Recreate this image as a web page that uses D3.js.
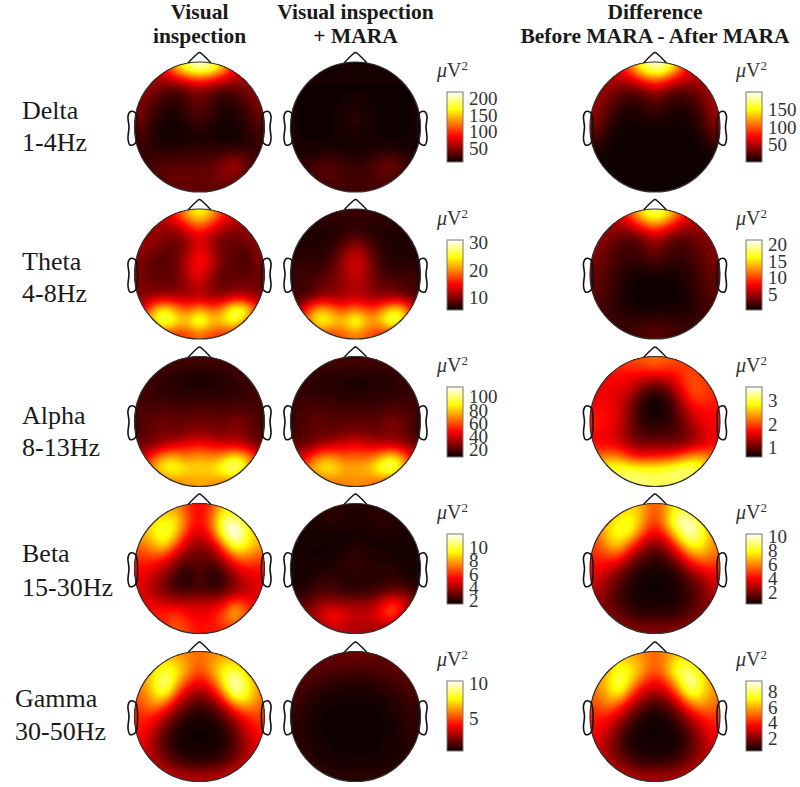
<!DOCTYPE html>
<html>
<head>
<meta charset="utf-8">
<script src="https://cdn.jsdelivr.net/npm/d3@7"></script>
<style>
html, body { margin: 0; padding: 0; background: #fff; }
svg { display: block; }
text { font-family: "Liberation Serif", serif; fill: #1a1a1a; }
</style>
</head>
<body>
<svg width="800" height="787"></svg>
<script>
// 11 x 11 power samples per head map, front of the head first, in uV^2
var deltaVisual = [
    [70, 70, 80, 150, 195, 215, 200, 150, 80, 70, 70],
    [55, 55, 60, 70, 85, 100, 85, 70, 60, 55, 55],
    [50, 45, 30, 20, 35, 45, 35, 20, 30, 40, 50],
    [45, 30, 22, 15, 28, 38, 25, 15, 20, 30, 45],
    [45, 22, 14, 12, 22, 32, 22, 12, 14, 22, 40],
    [38, 18, 12, 11, 14, 20, 14, 11, 12, 18, 32],
    [28, 14, 11, 11, 12, 14, 12, 11, 11, 14, 24],
    [22, 20, 18, 18, 20, 22, 20, 22, 22, 22, 22],
    [24, 25, 30, 30, 30, 30, 32, 42, 62, 34, 24],
    [28, 28, 35, 40, 40, 38, 40, 50, 50, 32, 28],
    [30, 30, 30, 35, 35, 35, 35, 35, 35, 30, 30]
];
var deltaMara = [
    [12, 12, 12, 12, 12, 12, 12, 12, 12, 12, 12],
    [11, 11, 11, 11, 11, 11, 11, 11, 11, 11, 11],
    [11, 10, 10, 10, 10, 10, 10, 10, 10, 10, 11],
    [11, 10, 10, 10, 11, 14, 11, 10, 10, 10, 11],
    [11, 10, 10, 10, 13, 20, 13, 10, 10, 10, 11],
    [11, 10, 10, 10, 13, 18, 13, 10, 10, 10, 11],
    [11, 10, 10, 10, 11, 13, 11, 10, 10, 10, 11],
    [12, 12, 13, 15, 13, 12, 13, 15, 17, 13, 12],
    [18, 20, 28, 30, 22, 18, 22, 33, 42, 26, 18],
    [20, 26, 32, 34, 28, 24, 28, 34, 36, 24, 20],
    [20, 22, 24, 26, 26, 24, 24, 26, 24, 20, 20]
];
var deltaDiff = [
    [55, 55, 65, 115, 170, 195, 180, 115, 65, 55, 55],
    [50, 50, 50, 60, 85, 105, 85, 60, 50, 50, 50],
    [45, 40, 28, 20, 28, 45, 28, 20, 24, 38, 50],
    [45, 28, 16, 10, 14, 25, 14, 10, 12, 25, 50],
    [42, 18, 8, 5, 8, 12, 8, 5, 7, 16, 45],
    [34, 12, 4, 2, 3, 4, 3, 2, 4, 12, 38],
    [20, 6, 2, 1, 1, 1, 1, 1, 2, 6, 22],
    [6, 3, 2, 1, 1, 1, 1, 1, 2, 3, 6],
    [3, 3, 2, 1, 1, 1, 1, 1, 2, 3, 3],
    [3, 3, 2, 2, 2, 2, 2, 2, 2, 3, 3],
    [3, 3, 3, 3, 3, 3, 3, 3, 3, 3, 3]
];
var thetaVisual = [
    [12, 12, 13, 16, 22, 26, 22, 16, 13, 12, 12],
    [11, 11, 11, 12, 15, 18, 15, 12, 11, 11, 11],
    [11, 11, 10, 9, 11, 14, 11, 9, 9, 10, 11],
    [11, 10, 9, 8.5, 11, 15, 12, 9, 9, 8, 11],
    [10, 8.5, 8, 9, 13, 16, 13, 9, 8.5, 7.5, 10],
    [10, 8.5, 9, 9, 12, 15.5, 11, 8.5, 9, 8.5, 9.5],
    [10, 9.5, 9, 9, 11, 13, 10, 8.5, 9.5, 9.5, 9.5],
    [10, 11, 12, 12, 11, 12, 11, 11, 13, 12, 10],
    [12, 21, 26, 21, 18, 22, 18, 21, 29, 27, 16],
    [18, 23, 30, 25, 23, 30, 23, 24, 28, 19, 16],
    [14, 16, 17, 16, 17, 19, 17, 16, 15, 14, 12]
];
var thetaMara = [
    [7, 7, 7, 7, 7.5, 7.5, 7.5, 7, 7, 7, 7],
    [6.5, 6.5, 6.5, 6.5, 6.5, 6.5, 6.5, 6.5, 6.5, 6.5, 6.5],
    [6.5, 6.5, 6.5, 6.5, 7.5, 9, 7.5, 6.5, 6.5, 6.5, 6.5],
    [6.5, 6.5, 6.5, 7, 10, 12.5, 10, 7, 6.5, 6.5, 6.5],
    [7, 7, 7, 8, 11, 14.5, 11, 7.5, 6.5, 6.5, 6.5],
    [7.5, 7.5, 8, 9, 11, 13.5, 11, 8, 7.5, 7.5, 7.5],
    [7.5, 7.5, 9, 9.5, 11, 12, 11, 9, 9, 8, 7.5],
    [7.5, 8, 11, 11, 11, 13, 11, 10, 11, 10, 8],
    [10, 18, 23, 20, 17, 20, 17, 19, 24, 25, 12],
    [14, 20, 28, 24, 23, 29, 22, 22, 30, 25, 15],
    [12, 15, 17, 17, 18, 20, 18, 16, 15, 13, 12]
];
var thetaDiff = [
    [6, 6, 7, 11, 16, 19, 16, 11, 7, 6, 6],
    [5, 5, 5, 6, 9, 11, 9, 6, 5, 5, 5],
    [5, 4, 3, 2.5, 3.5, 6, 3.5, 2.5, 3, 4, 5],
    [4.5, 3, 2.5, 2, 2.5, 4, 2.5, 2, 2.5, 3, 4.5],
    [4, 3, 2, 1.5, 1.8, 2.5, 1.8, 1.5, 2, 3, 4],
    [3.5, 2.5, 1.5, 1, 0.8, 1, 0.8, 1, 1.5, 2.5, 3.5],
    [3, 2.5, 1.5, 0.7, 0.5, 0.5, 0.5, 0.7, 1.5, 2.5, 3],
    [3, 2, 1.2, 0.7, 0.5, 0.5, 0.5, 0.7, 1.2, 2, 3],
    [2.5, 2, 1.5, 1, 0.8, 0.9, 0.8, 1, 1.3, 2, 2.5],
    [2.5, 2, 2, 1.7, 1.8, 2.2, 2, 1.7, 1.7, 2, 2.2],
    [2.5, 2, 2, 2.2, 2.6, 2.8, 2.6, 2.2, 2, 2, 2]
];
var alphaVisual = [
    [18, 18, 18, 18, 18, 18, 18, 18, 18, 18, 18],
    [18, 18, 16, 14, 12, 12, 12, 14, 16, 18, 18],
    [18, 16, 14, 13, 12, 12, 12, 13, 14, 16, 18],
    [18, 16, 16, 15, 15, 15, 15, 15, 16, 16, 18],
    [20, 19, 21, 19, 20, 20, 20, 19, 20, 19, 20],
    [20, 22, 26, 21, 25, 25, 25, 22, 30, 24, 20],
    [20, 24, 26, 24, 28, 30, 28, 26, 30, 25, 20],
    [24, 26, 35, 42, 46, 50, 46, 40, 40, 34, 24],
    [40, 55, 78, 76, 68, 76, 68, 76, 92, 78, 48],
    [50, 76, 92, 98, 84, 84, 84, 100, 115, 88, 55],
    [55, 62, 64, 68, 72, 74, 72, 68, 64, 60, 50]
];
var alphaMara = [
    [18, 18, 18, 18, 18, 18, 18, 18, 18, 18, 18],
    [16, 16, 14, 14, 13, 13, 13, 14, 14, 16, 16],
    [16, 14, 13, 13, 12, 12, 12, 13, 13, 14, 16],
    [16, 16, 16, 15, 14, 14, 14, 15, 16, 16, 16],
    [18, 19, 20, 18, 18, 18, 18, 18, 20, 19, 18],
    [18, 21, 24, 20, 22, 22, 22, 21, 30, 24, 18],
    [18, 22, 24, 22, 26, 28, 26, 24, 28, 24, 18],
    [22, 24, 32, 38, 42, 45, 42, 36, 36, 32, 22],
    [38, 50, 72, 72, 62, 66, 62, 74, 92, 74, 42],
    [45, 72, 88, 92, 76, 76, 78, 98, 112, 84, 50],
    [50, 58, 62, 66, 68, 70, 68, 62, 58, 52, 44]
];
var alphaDiff = [
    [1.9, 1.9, 1.9, 2, 2.1, 2.2, 2.1, 2, 1.9, 1.9, 1.9],
    [1.7, 1.7, 1.7, 1.7, 1.6, 1.7, 1.6, 1.8, 2, 1.9, 1.8],
    [1.6, 1.6, 1.6, 1.5, 1.1, 0.9, 1.1, 1.6, 2.1, 2, 1.8],
    [1.6, 1.6, 1.5, 1.2, 0.7, 0.6, 0.7, 1.2, 1.9, 2, 1.8],
    [1.7, 1.7, 1.5, 1, 0.65, 0.6, 0.65, 1, 1.5, 1.7, 1.7],
    [1.8, 1.7, 1.5, 1, 0.7, 0.65, 0.7, 0.9, 1.3, 1.6, 1.7],
    [1.7, 1.6, 1.4, 1, 0.85, 0.8, 0.85, 0.9, 1.1, 1.4, 1.6],
    [1.7, 1.6, 1.5, 1.2, 1.1, 1.1, 1.1, 1.1, 1.2, 1.5, 1.7],
    [2.1, 2.4, 2.3, 1.8, 1.7, 1.8, 1.8, 2, 2.5, 2.5, 2.1],
    [2.6, 3, 3.1, 3.1, 3, 3, 3.1, 3.3, 3.3, 3, 2.6],
    [2.9, 3, 3.1, 3.2, 3.2, 3.1, 3.1, 3.1, 3, 2.9, 2.7]
];
var betaVisual = [
    [7, 8, 8, 8, 6.2, 5, 6.2, 9, 9, 8, 7],
    [8, 9, 9.5, 9.5, 6.5, 5, 7, 11, 11.5, 9, 8],
    [8, 9, 10.5, 9, 5.5, 4.5, 6, 10.5, 13, 10, 8],
    [7, 8, 9.5, 6.5, 4, 3.5, 4, 7, 11, 9.5, 8],
    [6, 6.5, 6, 4.2, 3, 3, 3, 4.5, 7, 7.5, 6.5],
    [5.5, 5, 4.2, 2.8, 2, 3, 2, 2.8, 4.5, 5.5, 5.5],
    [5, 4.2, 3.2, 2, 1.6, 2.8, 1.6, 2, 3.5, 4.5, 5],
    [5, 4, 3.2, 2.6, 2.4, 2.8, 2.5, 2.8, 3.5, 4.2, 5],
    [5, 5, 4.8, 4.5, 4.5, 4.5, 4.5, 5, 7.5, 6, 5],
    [5, 6, 6, 6.5, 5.5, 5, 5.5, 6.5, 9, 6.5, 5],
    [5, 5, 5.5, 7, 6, 5.5, 5.5, 6, 6, 5, 5]
];
var betaMara = [
    [1.9, 1.9, 1.9, 1.9, 1.9, 1.9, 1.9, 1.9, 1.9, 1.9, 1.9],
    [1.9, 1.9, 1.9, 2, 1.9, 1.8, 1.9, 2, 2, 1.9, 1.9],
    [1.8, 1.7, 1.7, 1.7, 1.7, 1.7, 1.7, 1.8, 1.9, 1.7, 1.7],
    [1.7, 1.7, 1.6, 1.6, 1.7, 1.9, 1.7, 1.7, 1.7, 1.6, 1.7],
    [1.7, 1.6, 1.6, 1.7, 1.9, 2.3, 1.9, 1.9, 1.7, 1.6, 1.7],
    [1.7, 1.7, 1.8, 1.9, 1.9, 2.2, 1.9, 1.9, 2.1, 1.7, 1.7],
    [1.7, 1.8, 2.2, 2.2, 1.9, 1.9, 1.9, 1.9, 2.2, 2, 1.8],
    [1.9, 2, 2.5, 2.5, 2.2, 2, 2.2, 2.5, 3, 3.2, 2.2],
    [2.5, 3, 3.8, 4, 3.8, 3.8, 3.8, 4.5, 6.5, 5.5, 3],
    [3, 3.6, 4.6, 6, 5, 4.5, 4.5, 5.2, 7, 4.5, 3],
    [3, 3.2, 3.5, 4.5, 4.2, 4, 4, 3.8, 3.5, 3, 3]
];
var betaDiff = [
    [5, 7, 7, 7.5, 6.5, 5, 6.5, 8.5, 8, 7, 5],
    [6, 7, 8, 8.5, 6.5, 4.5, 7, 10, 10, 8, 6],
    [5, 7.5, 8.5, 8, 5, 3.5, 5, 8.5, 10.5, 8.5, 6],
    [5, 6.5, 7.5, 5, 2.8, 2, 2.8, 5.5, 8.5, 8, 6],
    [4.5, 5, 5, 2.5, 1.5, 1, 1.5, 3, 5.5, 6.5, 5.5],
    [4, 3.5, 2.5, 1.2, 0.8, 0.6, 0.8, 1.2, 3, 4, 4.5],
    [3.5, 2.5, 1.5, 0.8, 0.5, 0.5, 0.5, 0.8, 1.5, 2.5, 3.5],
    [3, 2, 1.2, 0.7, 0.5, 0.5, 0.5, 0.7, 1.2, 2, 3],
    [2.5, 2, 1.2, 0.8, 0.6, 0.6, 0.6, 0.8, 1.2, 2, 2.5],
    [2.5, 2.2, 1.8, 1.2, 1, 1, 1, 1.2, 1.8, 2.2, 2.5],
    [2.5, 2.5, 2.5, 2.2, 2.2, 2.2, 2.2, 2.2, 2.5, 2.5, 2.5]
];
var gammaVisual = [
    [5, 6.5, 7, 6.5, 6, 5.5, 6, 6.5, 6.5, 6.5, 5],
    [6, 7, 8.5, 8, 6.5, 5, 6.5, 8, 8.5, 7, 6],
    [6, 7.5, 9.8, 7.5, 5, 4, 5, 8, 10.5, 8, 6],
    [5.5, 7, 9.3, 5.5, 3, 2.5, 3, 6, 10, 8.5, 6],
    [5, 6.5, 5.5, 3, 1.8, 1.3, 1.8, 3, 6, 7, 5.5],
    [4.5, 4.5, 3, 1.6, 0.9, 0.7, 0.9, 1.6, 3, 4.5, 5],
    [4.5, 3.5, 2, 0.9, 0.6, 0.6, 0.6, 0.9, 2, 3.5, 4.5],
    [4, 2.8, 1.5, 0.7, 0.6, 0.6, 0.6, 0.7, 1.5, 2.8, 4],
    [3.8, 2.8, 1.6, 0.9, 0.7, 0.7, 0.7, 0.9, 1.6, 2.8, 3.8],
    [3.8, 3.2, 2.5, 1.6, 1.2, 1.1, 1.2, 1.6, 2.5, 3.2, 3.8],
    [3.8, 3.8, 3.6, 3.2, 3, 3, 3, 3.2, 3.6, 3.8, 3.8]
];
var gammaMara = [
    [1.7, 1.7, 1.7, 1.7, 1.9, 1.9, 1.9, 1.7, 1.7, 1.7, 1.7],
    [1.7, 1.7, 1.7, 1.6, 1.5, 1.4, 1.4, 1.5, 1.7, 1.7, 1.7],
    [1.7, 1.4, 1.2, 1.1, 1, 1, 1, 1.1, 1.3, 1.5, 1.7],
    [1.4, 1.1, 0.9, 0.8, 0.7, 0.7, 0.7, 0.8, 1, 1.2, 1.4],
    [1.2, 0.9, 0.7, 0.6, 0.6, 0.6, 0.6, 0.6, 0.8, 1, 1.2],
    [1.1, 0.8, 0.6, 0.6, 0.55, 0.55, 0.55, 0.6, 0.7, 0.9, 1.1],
    [1, 0.8, 0.6, 0.55, 0.55, 0.55, 0.55, 0.55, 0.7, 0.8, 1.1],
    [1, 0.8, 0.7, 0.6, 0.55, 0.55, 0.55, 0.6, 0.7, 0.8, 1],
    [1, 0.9, 0.7, 0.6, 0.6, 0.6, 0.6, 0.6, 0.7, 0.8, 1],
    [1.1, 1, 0.9, 0.8, 0.7, 0.7, 0.7, 0.7, 0.8, 0.9, 1.1],
    [1.2, 1.1, 1, 1, 1, 1, 1, 1, 1, 1.1, 1.2]
];
var gammaDiff = [
    [4.5, 6, 6.5, 6, 5.5, 4.8, 5.5, 6.5, 6.5, 6, 4.5],
    [5.5, 6, 7.6, 7, 6, 4.5, 6, 8.2, 8, 6.5, 5.5],
    [5.5, 6.5, 8.6, 6.5, 4.5, 3.6, 4.5, 7, 9.2, 7, 5.5],
    [5, 6.3, 7.6, 4.6, 2.8, 2.3, 2.8, 5, 8.3, 6.8, 5.5],
    [4.6, 5.5, 4.6, 2.7, 1.5, 1.1, 1.5, 2.7, 5, 6, 5],
    [4, 4, 2.8, 1.4, 0.7, 0.5, 0.7, 1.4, 2.8, 4, 4.4],
    [3.8, 3, 1.7, 0.8, 0.5, 0.5, 0.5, 0.8, 1.7, 3, 3.8],
    [3.4, 2.4, 1.3, 0.6, 0.5, 0.5, 0.5, 0.6, 1.3, 2.4, 3.4],
    [3.2, 2.4, 1.4, 0.8, 0.6, 0.6, 0.6, 0.8, 1.4, 2.4, 3.2],
    [3.2, 2.7, 2.1, 1.4, 1, 0.9, 1, 1.4, 2.1, 2.7, 3.2],
    [3.2, 3.2, 3, 2.7, 2.5, 2.5, 2.5, 2.7, 3, 3.2, 3.2]
];

var bandNames = ['Delta', 'Theta', 'Alpha', 'Beta', 'Gamma'];
var bandRanges = ['1-4Hz', '4-8Hz', '8-13Hz', '15-30Hz', '30-50Hz'];
var columnTitles = [['Visual', 'inspection'], ['Visual inspection', '+ MARA'], ['Difference', 'Before MARA - After MARA']];
var visualMaps = [deltaVisual, thetaVisual, alphaVisual, betaVisual, gammaVisual];
var maraMaps = [deltaMara, thetaMara, alphaMara, betaMara, gammaMara];
var diffMaps = [deltaDiff, thetaDiff, alphaDiff, betaDiff, gammaDiff];
// colour limits and tick labels, the first two columns share one colour bar
var sharedLimits = [[8, 220], [5.6, 31], [9, 115], [1.5, 12], [0.5, 10.3]];
var sharedTicks = [[50, 100, 150, 200], [10, 20, 30], [20, 40, 60, 80, 100], [2, 4, 6, 8, 10], [5, 10]];
var diffLimits = [[1, 199], [0.5, 21.2], [0.57, 3.6], [0.4, 10.4], [0.4, 9.3]];
var diffTicks = [[50, 100, 150], [5, 10, 15, 20], [1, 2, 3], [2, 4, 6, 8, 10], [2, 4, 6, 8]];

var rowY = [127, 274, 421.5, 568.5, 716.5];
var colX = [199.5, 355.5, 655];
var barX = [447, 746];
var barTop = [92, 240, 387, 534, 681];
var barW = 16, barH = 70, radius = 65;
var labelY = [[119, 151], [270, 302], [424, 456], [562, 596], [707, 740]];
var labelX = [22, 22, 22, 22, 15];

var svg = d3.select('svg');

// matlab "hot" colour map
var hot = d3.scaleLinear()
    .domain([0, 0.365, 0.75, 1])
    .range(['#0a0000', '#ff0000', '#ffff00', '#ffffff'])
    .clamp(true);

function colorFor(limits) {
    var t = d3.scaleLinear().domain(limits).range([0, 1]);
    return function (v) { return hot(t(v)); };
}

// repeat every sample and smooth, so contours of the map come out round
var upsample = 6;
function field(map) {
    var n = map.length * upsample;
    var values = new Float64Array(n * n);
    for (var y = 0; y < n; y++) {
        for (var x = 0; x < n; x++) {
            values[y * n + x] = map[Math.floor(y / upsample)][Math.floor(x / upsample)];
        }
    }
    d3.blur2({ data: values, width: n, height: n }, 2.5);
    return { values: values, n: n };
}

var nose = d3.line().curve(d3.curveCatmullRom);
var ear = d3.line().curve(d3.curveCatmullRomClosed);
var earPoints = [[-64, -14], [-69, -15.5], [-71.5, -11], [-70.5, 0], [-71.5, 12], [-69.5, 18], [-64, 16]];

function drawHead(g, map, limits, id) {
    var color = colorFor(limits);
    var f = field(map);
    var thresholds = d3.range(0, 80).map(function (i) {
        return limits[0] + (limits[1] - limits[0]) * i / 80;
    });
    var step = (limits[1] - limits[0]) / 80;
    var contours = d3.contours().size([f.n, f.n]).thresholds(thresholds)(f.values);
    var path = d3.geoPath(d3.geoIdentity().scale(2 * radius / f.n).translate([-radius, -radius]));

    svg.select('defs').append('clipPath').attr('id', id)
        .append('circle').attr('r', radius);

    var inside = g.append('g').attr('clip-path', 'url(#' + id + ')');
    inside.append('circle').attr('r', radius).attr('fill', color(limits[0]));
    inside.selectAll('path')
        .data(contours)
        .enter()
        .append('path')
        .attr('d', path)
        .attr('fill', function (d) { return color(d.value + step / 2); });

    g.append('path')
        .attr('d', nose([[-11.5, -64], [-3, -72.5], [0, -74.5], [3, -72.5], [11.5, -64]]))
        .attr('fill', 'none')
        .attr('stroke', '#111')
        .attr('stroke-width', 1.5);
    g.append('circle')
        .attr('r', radius)
        .attr('fill', 'none')
        .attr('stroke', '#333')
        .attr('stroke-width', 1.2);
    [1, -1].forEach(function (side) {
        g.append('path')
            .attr('d', ear(earPoints.map(function (p) { return [p[0] * side, p[1]]; })))
            .attr('fill', 'none')
            .attr('stroke', '#111')
            .attr('stroke-width', 1.6);
    });
}

function drawBar(x, top, limits, ticks) {
    var color = colorFor(limits);
    var y = d3.scaleLinear().domain(limits).range([top + barH, top]);
    var g = svg.append('g');
    g.selectAll('rect')
        .data(d3.range(barH))
        .enter()
        .append('rect')
        .attr('x', x)
        .attr('y', function (d) { return top + barH - 1 - d; })
        .attr('width', barW)
        .attr('height', 1)
        .attr('fill', function (d) { return color(y.invert(top + barH - d - 0.5)); });
    g.append('rect')
        .attr('x', x)
        .attr('y', top)
        .attr('width', barW)
        .attr('height', barH)
        .attr('fill', 'none')
        .attr('stroke', '#777');

    var axis = svg.append('g')
        .attr('transform', 'translate(' + (x + barW) + ',0)')
        .call(d3.axisRight(y).tickValues(ticks).tickSize(0).tickPadding(6).tickFormat(d3.format('d')));
    axis.select('.domain').remove();
    axis.selectAll('text')
        .style('font-family', '"Liberation Serif", serif')
        .style('font-size', '19px')
        .style('fill', '#333');

    var unit = svg.append('text')
        .attr('x', x - 10)
        .attr('y', top - 15)
        .style('font-size', '20px')
        .style('fill', '#333');
    unit.append('tspan').style('font-style', 'italic').text('\u03bc');
    unit.append('tspan').text('V');
    unit.append('tspan').attr('dy', -7).style('font-size', '13px').text('2');
}

svg.append('defs');

columnTitles.forEach(function (lines, c) {
    lines.forEach(function (line, i) {
        svg.append('text')
            .attr('x', colX[c])
            .attr('y', 19 + i * 23.5)
            .attr('text-anchor', 'middle')
            .style('font-size', '21.5px')
            .style('font-weight', 'bold')
            .text(line);
    });
});

bandNames.forEach(function (name, r) {
    [name, bandRanges[r]].forEach(function (line, i) {
        svg.append('text')
            .attr('x', labelX[r])
            .attr('y', labelY[r][i])
            .style('font-size', '26px')
            .text(line);
    });
    [visualMaps[r], maraMaps[r], diffMaps[r]].forEach(function (map, c) {
        var g = svg.append('g').attr('transform', 'translate(' + colX[c] + ',' + rowY[r] + ')');
        drawHead(g, map, c < 2 ? sharedLimits[r] : diffLimits[r], 'head' + r + c);
    });
    drawBar(barX[0], barTop[r], sharedLimits[r], sharedTicks[r]);
    drawBar(barX[1], barTop[r], diffLimits[r], diffTicks[r]);
});
</script>
</body>
</html>
